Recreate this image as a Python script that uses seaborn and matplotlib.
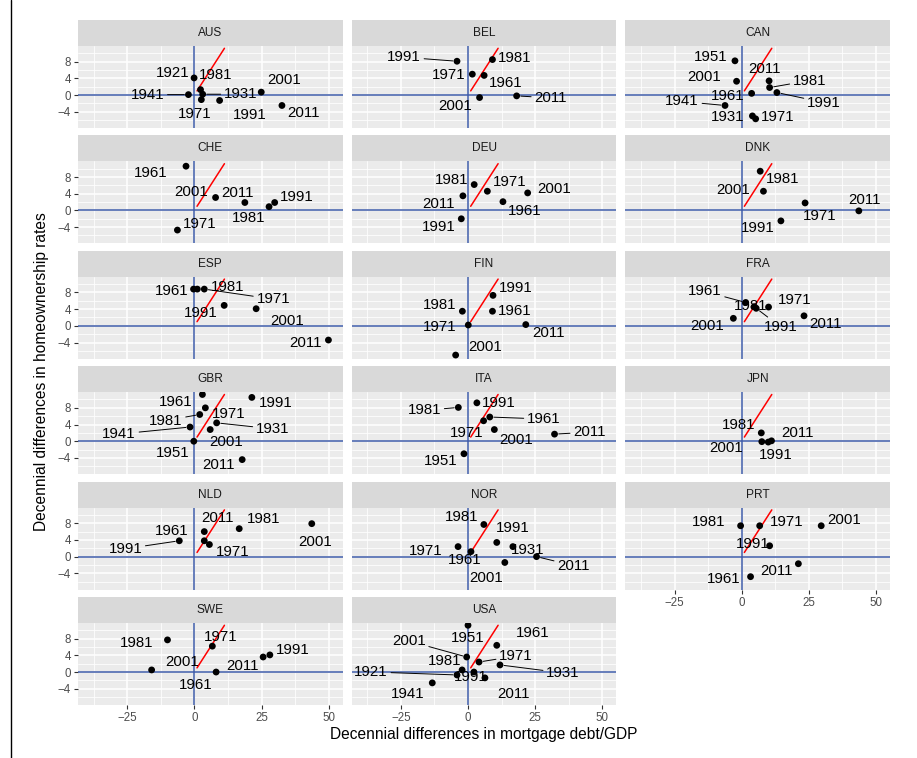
import numpy as np
import pandas as pd
import matplotlib
matplotlib.use("Agg")
import matplotlib.pyplot as plt
import seaborn as sns
from matplotlib.patches import Rectangle
from matplotlib.lines import Line2D

COUNTRIES = ["AUS", "BEL", "CAN", "CHE", "DEU", "DNK", "ESP", "FIN", "FRA",
             "GBR", "ITA", "JPN", "NLD", "NOR", "PRT", "SWE", "USA"]

# decade, change in mortgage debt/GDP, change in homeownership rate
AUS_YEAR = [1921, 1931, 1941, 1971, 1981, 1991, 2001, 2011]
AUS_DEBT = [-0.1, 3.1, -2.2, 2.6, 2.3, 9.4, 24.9, 32.6]
AUS_HOME = [4.1, 0.2, 0.1, -1.1, 1.3, -1.3, 0.7, -2.5]

BEL_YEAR = [1961, 1971, 1981, 1991, 2001, 2011]
BEL_DEBT = [6.0, 1.6, 9.1, -4.1, 4.3, 18.1]
BEL_HOME = [4.7, 5.0, 8.5, 8.1, -0.6, -0.2]

CAN_YEAR = [1931, 1941, 1951, 1961, 1971, 1981, 1991, 2001, 2011]
CAN_DEBT = [4.0, -6.2, -2.5, 3.7, 5.2, 10.4, 13.1, -1.9, 10.2]
CAN_HOME = [-5.0, -2.5, 8.2, 0.4, -5.7, 1.8, 0.6, 3.3, 3.4]

CHE_YEAR = [1961, 1971, 1981, 1991, 2001, 2011]
CHE_DEBT = [-3.1, -6.3, 27.8, 29.9, 7.9, 18.8]
CHE_HOME = [10.6, -4.7, 0.9, 1.9, 3.1, 1.9]

DEU_YEAR = [1961, 1971, 1981, 1991, 2001, 2011]
DEU_DEBT = [13.0, 7.2, 2.3, -2.5, 22.2, -1.9]
DEU_HOME = [2.1, 4.6, 6.2, -2.0, 4.2, 3.5]

DNK_YEAR = [1971, 1981, 1991, 2001, 2011]
DNK_DEBT = [23.6, 6.9, 14.6, 8.1, 43.6]
DNK_HOME = [1.8, 9.4, -2.5, 4.6, -0.1]

ESP_YEAR = [1961, 1971, 1981, 1991, 2001, 2011]
ESP_DEBT = [-0.3, 3.7, 1.1, 11.1, 23.0, 49.9]
ESP_HOME = [8.8, 8.8, 8.8, 4.9, 4.1, -3.4]

FIN_YEAR = [1961, 1971, 1981, 1991, 2001, 2011]
FIN_DEBT = [9.1, 0.1, -2.1, 9.3, -4.6, 21.5]
FIN_HOME = [3.5, 0.2, 3.5, 7.3, -7.0, 0.3]

FRA_YEAR = [1961, 1971, 1981, 1991, 2001, 2011]
FRA_DEBT = [1.5, 10.0, 4.7, 5.4, -3.1, 23.2]
FRA_HOME = [5.6, 4.5, 4.6, 4.2, 1.8, 2.4]

GBR_YEAR = [1931, 1941, 1951, 1961, 1971, 1981, 1991, 2001, 2011]
GBR_DEBT = [8.3, -1.6, -0.2, 3.0, 4.1, 2.0, 21.4, 5.9, 17.8]
GBR_HOME = [4.4, 3.4, 0.0, 11.2, 8.0, 6.4, 10.5, 2.8, -4.4]

ITA_YEAR = [1951, 1961, 1971, 1981, 1991, 2001, 2011]
ITA_DEBT = [-1.5, 8.1, 5.8, -3.6, 3.3, 9.8, 32.2]
ITA_HOME = [-3.0, 5.8, 4.9, 8.1, 9.2, 2.8, 1.7]

JPN_YEAR = [1981, 1991, 2001, 2011]
JPN_DEBT = [7.3, 9.9, 7.5, 11.1]
JPN_HOME = [2.0, -0.2, -0.1, 0.1]

NLD_YEAR = [1961, 1971, 1981, 1991, 2001, 2011]
NLD_DEBT = [3.7, 5.6, 16.7, -5.6, 43.7, 3.7]
NLD_HOME = [3.8, 2.9, 6.7, 3.8, 7.9, 6.0]

NOR_YEAR = [1931, 1961, 1971, 1981, 1991, 2001, 2011]
NOR_DEBT = [16.7, 1.1, -3.7, 5.9, 10.7, 13.7, 25.5]
NOR_HOME = [2.4, 1.2, 2.4, 7.7, 3.4, -1.4, 0.0]

PRT_YEAR = [1961, 1971, 1981, 1991, 2001, 2011]
PRT_DEBT = [3.3, 6.7, -0.4, 10.4, 29.6, 21.1]
PRT_HOME = [-4.8, 7.4, 7.4, 2.6, 7.4, -1.7]

SWE_YEAR = [1961, 1971, 1981, 1991, 2001, 2011]
SWE_DEBT = [8.1, 6.7, -10.0, 28.1, -15.9, 25.6]
SWE_HOME = [0.0, 6.2, 7.7, 4.1, 0.5, 3.6]

USA_YEAR = [1921, 1931, 1941, 1951, 1961, 1971, 1981, 1991, 2001, 2011]
USA_DEBT = [-4.1, 11.9, -13.3, 0.0, 10.7, 4.1, -2.2, 2.2, -0.5, 6.3]
USA_HOME = [-0.7, 1.7, -2.6, 11.2, 6.4, 2.4, 0.5, 0.0, 3.6, -1.4]

# 45 degree reference segment
REF_X = [1.0, 11.2]
REF_Y = [1.0, 11.2]

DATA = {
    "AUS": (AUS_YEAR, AUS_DEBT, AUS_HOME), "BEL": (BEL_YEAR, BEL_DEBT, BEL_HOME),
    "CAN": (CAN_YEAR, CAN_DEBT, CAN_HOME), "CHE": (CHE_YEAR, CHE_DEBT, CHE_HOME),
    "DEU": (DEU_YEAR, DEU_DEBT, DEU_HOME), "DNK": (DNK_YEAR, DNK_DEBT, DNK_HOME),
    "ESP": (ESP_YEAR, ESP_DEBT, ESP_HOME), "FIN": (FIN_YEAR, FIN_DEBT, FIN_HOME),
    "FRA": (FRA_YEAR, FRA_DEBT, FRA_HOME), "GBR": (GBR_YEAR, GBR_DEBT, GBR_HOME),
    "ITA": (ITA_YEAR, ITA_DEBT, ITA_HOME), "JPN": (JPN_YEAR, JPN_DEBT, JPN_HOME),
    "NLD": (NLD_YEAR, NLD_DEBT, NLD_HOME), "NOR": (NOR_YEAR, NOR_DEBT, NOR_HOME),
    "PRT": (PRT_YEAR, PRT_DEBT, PRT_HOME), "SWE": (SWE_YEAR, SWE_DEBT, SWE_HOME),
    "USA": (USA_YEAR, USA_DEBT, USA_HOME),
}

# label placement (pixel offsets from the point, repel-style), same order as years
NUDGE = {
    "AUS": [(-21, 5), (38, 0), (-41, 0), (-7, -14), (15, 15), (30, -15), (23, 12), (22, -8)],
    "BEL": [(22, -8), (-24, -1), (22, 2), (-53, 4), (-24, -8), (34, -2)],
    "CAN": [(-25, -1), (-43, 4), (-24, 4), (-24, -3), (22, 2), (40, 7), (47, -10), (-32, 4), (-5, 12)],
    "CHE": [(-35, -7), (22, 6), (-20, -11), (22, 6), (-24, 6), (-7, 10)],
    "DEU": [(22, -9), (22, 9), (-23, 5), (-23, -8), (26, 4), (-24, -8)],
    "DNK": [(15, -13), (22, -8), (-23, -7), (-30, 1), (6, 11)],
    "ESP": [(-22, -2), (69, -10), (30, 2), (-23, -8), (31, -12), (-23, -3)],
    "FIN": [(22, 0), (-29, -2), (-23, 6), (23, 7), (29, 8), (23, -8)],
    "FRA": [(-41, 11), (26, 7), (-4, 1), (25, -19), (-26, -8), (21, -8)],
    "GBR": [(56, -6), (-71, -7), (-21, -12), (-27, -8), (23, -6), (-34, -6), (24, -6), (16, -12), (-24, -5)],
    "ITA": [(-23, -7), (54, -2), (-17, -12), (-34, -3), (22, 0), (22, -10), (35, 2)],
    "JPN": [(-23, 8), (7, -13), (-36, -6), (26, 8)],
    "NLD": [(-33, 10), (23, -7), (24, 10), (-54, -8), (3, -18), (13, 14)],
    "NOR": [(15, -3), (-6, -8), (-32, -4), (-22, 7), (16, 14), (-19, -16), (37, -9)],
    "PRT": [(-27, -2), (27, 4), (-32, 4), (-17, 2), (23, 6), (-22, -7)],
    "SWE": [(-20, -13), (8, 9), (-31, -3), (23, 5), (31, 8), (-21, -9)],
    "USA": [(-86, 3), (63, -8), (-25, -11), (0, -13), (36, 12), (37, 6), (-17, 9), (-3, -5), (-58, 16), (29, -16)],
}
SEGMENTS = {
    "AUS": [1931, 1941], "BEL": [1991, 2011], "CAN": [1941, 1981, 1991],
    "ESP": [1971], "FRA": [1961, 1991], "GBR": [1931, 1941, 1981],
    "ITA": [1961, 1981, 2011], "NLD": [1991], "NOR": [2011],
    "USA": [1921, 1931, 1971, 2001],
}

rows = []
for c in COUNTRIES:
    yrs, debt, home = DATA[c]
    rows.append(pd.DataFrame({"country": c, "year": yrs, "debt": debt, "home": home}))
df = pd.concat(rows, ignore_index=True)

sns.set_theme(style="darkgrid", rc={
    "axes.facecolor": "#EBEBEB",
    "grid.color": "white",
    "grid.linewidth": 1.1,
    "xtick.color": "#333333",
    "ytick.color": "#333333",
    "xtick.labelcolor": "#4D4D4D",
    "ytick.labelcolor": "#4D4D4D",
    "xtick.labelsize": 8.3,
    "ytick.labelsize": 8.3,
})
plt.rcParams["font.family"] = ["Liberation Sans", "DejaVu Sans"]

g = sns.FacetGrid(df, col="country", col_order=COUNTRIES, col_wrap=3,
                  sharex=True, sharey=True, despine=False, height=1.2, aspect=3.2)
g.map_dataframe(sns.scatterplot, x="debt", y="home", color="black", s=24,
                edgecolor="none", zorder=3)
g.set(xlim=(-43.3, 55.2), ylim=(-7.9, 11.75),
      xticks=[-25, 0, 25, 50], yticks=[-4, 0, 4, 8])
g.set_titles("")
g.set_axis_labels("", "")

fig = g.figure
fig.set_size_inches(9.17, 7.58)
fig.subplots_adjust(left=78 / 917, right=890 / 917, top=1 - 46 / 758,
                    bottom=1 - 705 / 758, wspace=0.034, hspace=0.407)

bottom_axes = set(g._bottom_axes)
left_axes = set(g._left_axes)

for c, ax in g.axes_dict.items():
    ax.set_title("")
    for sp in ax.spines.values():
        sp.set_visible(False)
    ax.set_xticks([-37.5, -12.5, 12.5, 37.5], minor=True)
    ax.set_yticks([-6, -2, 2, 6, 10], minor=True)
    ax.grid(which="minor", color="white", linewidth=0.55)
    ax.grid(which="major", color="white", linewidth=1.1)
    ax.tick_params(which="minor", length=0)
    ax.tick_params(axis="x", bottom=ax in bottom_axes, length=3, width=0.8, pad=2)
    ax.tick_params(axis="y", left=ax in left_axes, length=3, width=0.8, pad=2)

    ax.axhline(0, color="#3E5BA9", lw=1.1, zorder=1.5)
    ax.axvline(0, color="#3E5BA9", lw=1.1, zorder=1.5)
    ax.plot(REF_X, REF_Y, color="red", lw=1.1, zorder=2)

    # strip
    ax.add_patch(Rectangle((0, 1), 1, 26 / 82, transform=ax.transAxes,
                           facecolor="#D9D9D9", edgecolor="none", clip_on=False))
    ax.text(0.5, 1 + 13 / 82, c, transform=ax.transAxes, ha="center", va="center",
            fontsize=8.6, color="#1A1A1A")

    yrs, debt, home = DATA[c]
    for yr, x, y, (dx, dy) in zip(yrs, debt, home, NUDGE[c]):
        kw = {}
        if yr in SEGMENTS.get(c, []):
            kw["arrowprops"] = dict(arrowstyle="-", color="black", lw=0.7,
                                    shrinkA=0, shrinkB=3)
        ax.annotate(str(yr), xy=(x, y), xytext=(dx, dy), textcoords="offset pixels",
                    ha="center", va="center", fontsize=10.8, color="black",
                    zorder=4, **kw)

fig.text((78 + 890) / 2 / 917, 1 - 735 / 758, "Decennial differences in mortgage debt/GDP",
         ha="center", va="center", fontsize=11.2, color="black")
fig.text(42 / 917, 1 - 372 / 758, "Decennial differences in homeownership rates",
         ha="center", va="center", rotation=90, fontsize=11.2, color="black")

fig.add_artist(Line2D([10.5 / 917, 10.5 / 917], [0, 1], transform=fig.transFigure,
                      color="black", lw=1.0))

fig.savefig("out.png", dpi=100)
